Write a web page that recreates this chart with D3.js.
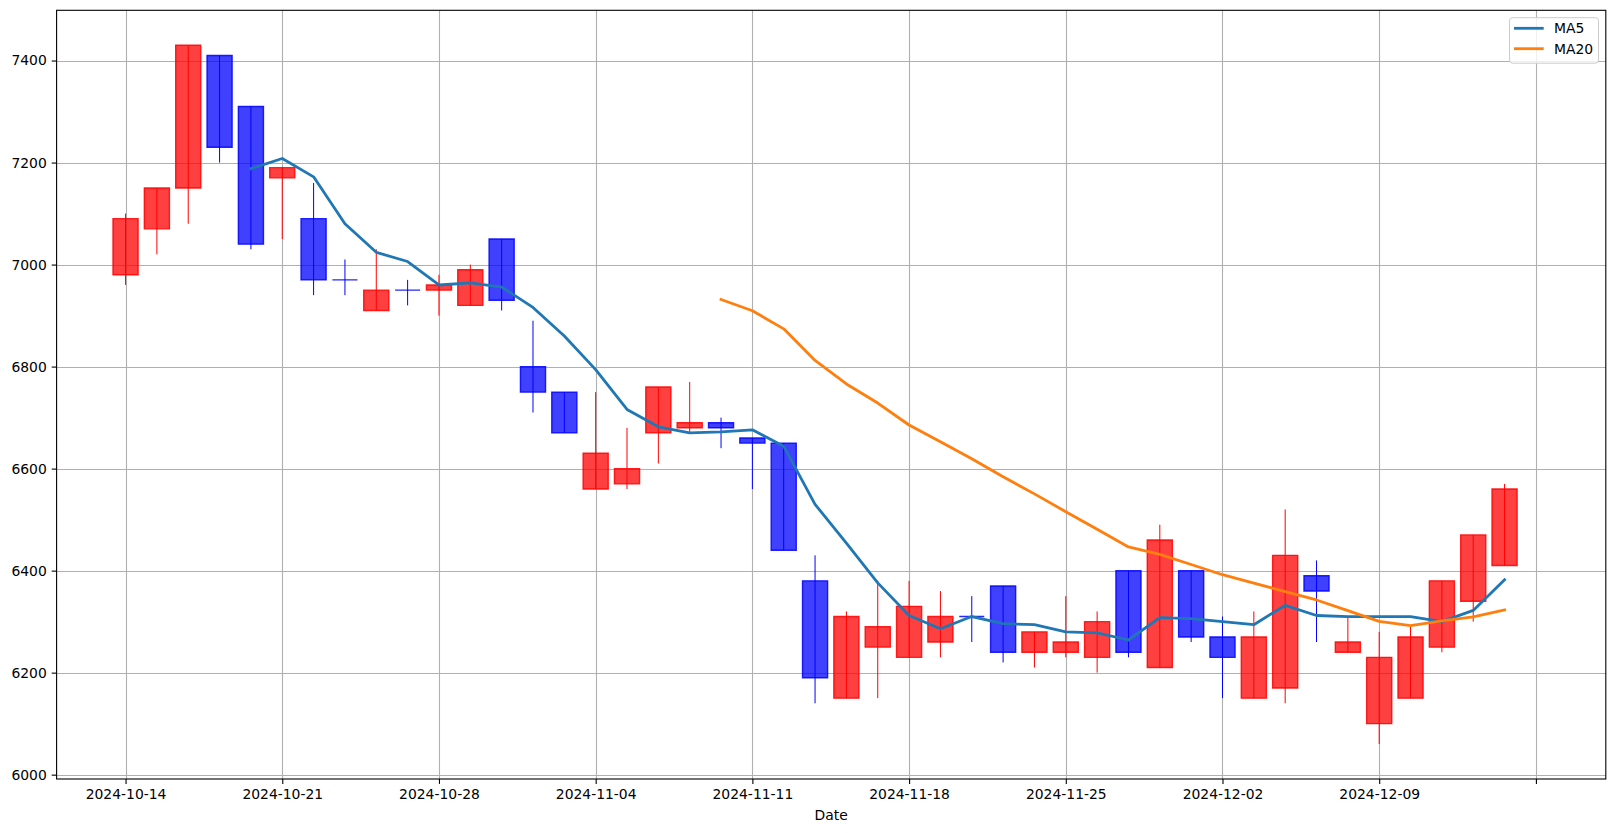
<!DOCTYPE html>
<html>
<head>
<meta charset="utf-8">
<script src="https://cdn.jsdelivr.net/npm/d3@7"></script>
<style>
  html, body { margin: 0; padding: 0; background: #fff; }
  svg { display: block; font-family: "DejaVu Sans", sans-serif; }
</style>
</head>
<body>
<svg id="chart" width="1614" height="833"></svg>
<script>
// ---- data ----
const dates = [
  "2024-10-14","2024-10-15","2024-10-16","2024-10-17","2024-10-18",
  "2024-10-21","2024-10-22","2024-10-23","2024-10-24","2024-10-25",
  "2024-10-28","2024-10-29","2024-10-30","2024-10-31","2024-11-01",
  "2024-11-04","2024-11-05","2024-11-06","2024-11-07","2024-11-08",
  "2024-11-11","2024-11-12","2024-11-13","2024-11-14","2024-11-15",
  "2024-11-18","2024-11-19","2024-11-20","2024-11-21","2024-11-22",
  "2024-11-25","2024-11-26","2024-11-27","2024-11-28","2024-11-29",
  "2024-12-02","2024-12-03","2024-12-04","2024-12-05","2024-12-06",
  "2024-12-09","2024-12-10","2024-12-11","2024-12-12","2024-12-13"
];
const openP = [6980,7070,7150,7410,7310, 7170,7090,6970,6910,6950, 6950,6920,7050,6800,6750,
               6560,6570,6670,6680,6690, 6660,6650,6380,6150,6250, 6230,6260,6310,6370,6240,
               6240,6230,6400,6210,6400, 6270,6150,6170,6390,6240, 6100,6150,6250,6340,6410];
const highP = [7100,7150,7430,7410,7310, 7190,7160,7010,7030,6970, 6980,7000,7050,6890,6750,
               6750,6680,6760,6770,6700, 6660,6650,6430,6320,6380, 6380,6360,6350,6370,6280,
               6350,6320,6400,6490,6400, 6310,6320,6520,6420,6310, 6280,6290,6380,6470,6570];
const lowP  = [6960,7020,7080,7200,7030, 7050,6940,6940,6910,6920, 6900,6920,6910,6710,6670,
               6560,6560,6610,6670,6640, 6560,6440,6140,6150,6150, 6230,6230,6260,6220,6210,
               6230,6200,6230,6210,6260, 6150,6150,6140,6260,6240, 6060,6150,6240,6300,6410];
const closeP= [7090,7150,7430,7230,7040, 7190,6970,6970,6950,6950, 6960,6990,6930,6750,6670,
               6630,6600,6760,6690,6680, 6650,6440,6190,6310,6290, 6330,6310,6310,6240,6280,
               6260,6300,6240,6460,6270, 6230,6270,6430,6360,6260, 6230,6270,6380,6470,6560];
const yTicks = [6000,6200,6400,6600,6800,7000,7200,7400];
const xTickIdx = [0,5,10,15,20,25,30,35,40,45];
const maWindows = [5, 20];
const maNames = ["MA5","MA20"];
const maColors = ["#1f77b4","#ff7f0e"];

// moving averages of the close series (as in the original chart)
function rolling(arr, w) {
  return arr.map((_, i) => i < w - 1 ? null : d3.mean(arr.slice(i - w + 1, i + 1)));
}
const maSeries = maWindows.map(w => rolling(closeP, w));

// ---- layout ----
const L = 56.6, R = 1605.8, T = 10.3, B = 779;
const svg = d3.select("#chart");
const x = d3.scaleLinear().domain([-2.2, 47.23]).range([L, R]);
const y = d3.scaleLinear().domain([5991.5, 7498.5]).range([B, T]);
const FS = 13.9;

// grid
const grid = svg.append("g");
grid.selectAll("line.gx").data(xTickIdx).join("line")
  .attr("x1", d => Math.round(x(d)) + 0.5).attr("x2", d => Math.round(x(d)) + 0.5)
  .attr("y1", T).attr("y2", B)
  .attr("stroke", "#b0b0b0").attr("stroke-width", 1.1);
grid.selectAll("line.gy").data(yTicks).join("line")
  .attr("y1", d => Math.round(y(d)) + 0.5).attr("y2", d => Math.round(y(d)) + 0.5)
  .attr("x1", L).attr("x2", R)
  .attr("stroke", "#b0b0b0").attr("stroke-width", 1.1);

// candles
const idx = d3.range(closeP.length);
const col = i => closeP[i] > openP[i] ? "#ff0000" : "#0000ff";
const cg = svg.append("g");
cg.selectAll("line.wick").data(idx).join("line")
  .attr("x1", i => x(i)).attr("x2", i => x(i))
  .attr("y1", i => y(highP[i])).attr("y2", i => y(lowP[i]))
  .attr("stroke", col).attr("stroke-width", 1);
cg.selectAll("path.body").data(idx).join("path")
  .attr("d", i => {
    const x0 = x(i - 0.4), x1 = x(i + 0.4);
    const y0 = y(Math.max(openP[i], closeP[i])), y1 = y(Math.min(openP[i], closeP[i]));
    return `M${x0},${y0}H${x1}V${y1}H${x0}Z`;
  })
  .attr("fill", col).attr("fill-opacity", 0.75)
  .attr("stroke", col).attr("stroke-opacity", 0.85).attr("stroke-width", 1.4);

// moving average lines
maSeries.forEach((s, k) => {
  const line = d3.line().defined(d => d != null).x((d, i) => x(i)).y(d => y(d));
  svg.append("path").datum(s)
    .attr("d", line).attr("fill", "none")
    .attr("stroke", maColors[k]).attr("stroke-width", 2.8)
    .attr("stroke-linejoin", "round").attr("stroke-linecap", "square");
});

// axes
const yAxis = d3.axisLeft(y).tickValues(yTicks).tickFormat(d3.format("d"))
  .tickSize(4.9).tickPadding(4.9);
const gy = svg.append("g").attr("transform", `translate(${L},0)`).call(yAxis);
const xAxis = d3.axisBottom(x).tickValues(xTickIdx)
  .tickFormat(i => dates[i] || "").tickSize(4.9).tickPadding(4.9);
const gx = svg.append("g").attr("transform", `translate(0,${B})`).call(xAxis);
[gx, gy].forEach(g => {
  g.select(".domain").remove();
  g.selectAll(".tick line").attr("stroke", "#000").attr("stroke-width", 1.1);
  g.selectAll(".tick text").attr("fill", "#000").style("font-size", FS + "px")
    .style("font-family", "DejaVu Sans");
});

// frame
svg.append("rect").attr("x", L).attr("y", T).attr("width", R - L).attr("height", B - T)
  .attr("fill", "none").attr("stroke", "#000").attr("stroke-width", 1.1);

// x label
svg.append("text").attr("x", (L + R) / 2).attr("y", 820)
  .attr("text-anchor", "middle").style("font-size", FS + "px").text("Date");

// legend
const lg = svg.append("g");
lg.append("rect").attr("x", 1509.5).attr("y", 17.7).attr("width", 89).attr("height", 45.5)
  .attr("rx", 3).attr("fill", "#fff").attr("fill-opacity", 0.8)
  .attr("stroke", "#cccccc").attr("stroke-width", 1);
maNames.forEach((n, k) => {
  const yy = 28.3 + k * 20.4;
  lg.append("line").attr("x1", 1514).attr("x2", 1543.7).attr("y1", yy).attr("y2", yy)
    .attr("stroke", maColors[k]).attr("stroke-width", 2.8);
  lg.append("text").attr("x", 1554).attr("y", yy).attr("dy", "0.36em")
    .style("font-size", FS + "px").text(n);
});
</script>
</body>
</html>
